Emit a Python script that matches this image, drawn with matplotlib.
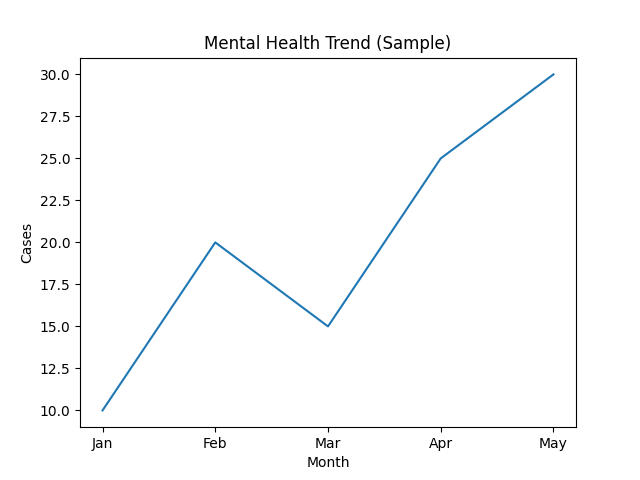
import matplotlib
matplotlib.use("Agg")
import matplotlib.pyplot as plt

months = ["Jan", "Feb", "Mar", "Apr", "May"]
cases = [10, 20, 15, 25, 30]

fig, ax = plt.subplots(figsize=(6.4, 4.8), dpi=100)
ax.plot(months, cases)
ax.set_title("Mental Health Trend (Sample)")
ax.set_xlabel("Month")
ax.set_ylabel("Cases")
fig.savefig("out.png")
